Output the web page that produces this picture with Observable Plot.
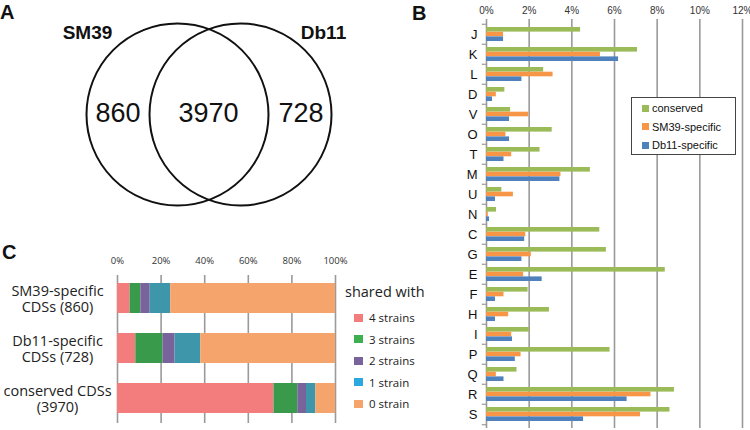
<!DOCTYPE html>
<html>
<head>
<meta charset="utf-8">
<script src="https://cdn.jsdelivr.net/npm/d3@7"></script>
<script src="https://cdn.jsdelivr.net/npm/@observablehq/plot@0.6"></script>
<style>
  html, body { margin: 0; padding: 0; background: #fff; }
  #root { position: relative; width: 750px; height: 430px; overflow: hidden; background: #fff; font-family: "Liberation Sans", Arial, sans-serif; }
  .panel { position: absolute; }
  .panel svg { overflow: visible; }
  .plabel { position: absolute; font-weight: bold; font-size: 20px; line-height: 1; color: #111; }
  .legB { position: absolute; left: 631px; top: 97px; width: 103px; height: 56px; border: 1.5px solid #444; background: #fff; font-size: 11px; color: #111; }
  .legB .row { position: absolute; left: 10px; display: flex; align-items: center; }
  .legB .sw { width: 7px; height: 7px; margin-right: 3px; }
  .legC { position: absolute; left: 345px; top: 282px; font-family: "Open Sans", sans-serif; color: #222; }
  .legC .title { font-size: 14.5px; line-height: 20px; }
  .legC .row { position: absolute; left: 9px; display: flex; align-items: center; font-size: 11.5px; white-space: nowrap; }
  .legC .sw { width: 9px; height: 8px; margin-right: 6px; }
</style>
</head>
<body>
<div id="root"></div>
<script>
// ---------- Panel A data ----------
const vennNames = ["SM39", "Db11"];
const vennCounts = [860, 3970, 728]; // SM39-only, shared, Db11-only

// ---------- Panel B data ----------
const cogCategories = ["J","K","L","D","V","O","T","M","U","N","C","G","E","F","H","I","P","Q","R","S"];
const conserved    = [4.41,7.08,2.68,0.86,1.13,3.08,2.51,4.87,0.72,0.47,5.31,5.62,8.38,1.95,2.95,2.01,5.79,1.43,8.81,8.60];
const sm39Specific = [0.80,5.34,3.12,0.46,1.98,0.91,1.18,3.49,1.26,0.08,1.84,2.10,1.74,0.82,1.04,1.18,1.62,0.46,7.71,7.22];
const db11Specific = [0.80,6.19,1.66,0.28,1.08,1.08,0.82,3.44,0.42,0.14,1.79,1.66,2.61,0.42,0.42,1.22,1.35,0.82,6.59,4.55];
const cogSeries = ["conserved", "SM39-specific", "Db11-specific"];
const cogColors = ["#9BBB59", "#F79646", "#4F81BD"];
const cogTicks = [0, 2, 4, 6, 8, 10, 12];

// ---------- Panel C data ----------
const cdsGroups = ["SM39-specific\nCDSs (860)", "Db11-specific\nCDSs (728)", "conserved CDSs\n(3970)"];
const sharedClasses = ["4 strains", "3 strains", "2 strains", "1 strain", "0 strain"];
const sharedSM39 = [5.8, 4.9, 4.3, 9.4, 75.6];
const sharedDb11 = [8.4, 12.5, 5.5, 11.8, 61.8];
const sharedConserved = [71.8, 10.9, 4.0, 4.3, 9.0];
const sharedColors = ["#F37D7D", "#3A9A4C", "#78649A", "#3E96AA", "#F5A46C"];
const sharedLegendColors = ["#F37D7D", "#3CAF4F", "#78649A", "#2BA8E0", "#F5A46C"];
const pctTicks = [0, 20, 40, 60, 80, 100];

const root = document.getElementById("root");
function place(el, left, top) {
  const wrap = document.createElement("div");
  wrap.className = "panel";
  wrap.style.left = left + "px";
  wrap.style.top = top + "px";
  wrap.appendChild(el);
  root.appendChild(wrap);
}

// ---------- Panel A: Venn ----------
const vennLayout = {cx: [177, 240], cy: 114, r: 91, nameX: [87, 323], nameY: 32, countX: [117.5, 208, 300.5], countY: 113};
const plotA = Plot.plot({
  width: 420, height: 220, margin: 0,
  style: {fontFamily: "Liberation Sans, Arial, sans-serif", background: "none", color: "#111"},
  x: {domain: [0, 420], range: [0, 420], axis: null},
  y: {domain: [0, 220], range: [0, 220], axis: null},
  marks: [
    Plot.dot(vennNames, {x: (d, i) => vennLayout.cx[i], y: vennLayout.cy, r: vennLayout.r, stroke: "#111", strokeWidth: 2, fill: "none"}),
    Plot.text(vennNames, {x: (d, i) => vennLayout.nameX[i], y: vennLayout.nameY, text: d => d, fontWeight: "bold", fontSize: 19, fill: "#111"}),
    Plot.text(vennCounts, {x: (d, i) => vennLayout.countX[i], y: vennLayout.countY, text: d => String(d), fontSize: 27, fill: "#111"})
  ]
});
place(plotA, 0, 0);

// ---------- Panel B: COG bars ----------
const seriesValues = [conserved, sm39Specific, db11Specific];
const rowsB = cogCategories.flatMap((c, i) => cogSeries.map((s, j) => ({category: c, series: s, value: seriesValues[j][i]})));
const bandB = 14.1, thirdB = bandB / 3;
const insetsB = [[0, 2 * thirdB], [thirdB, thirdB], [2 * thirdB, 0]];
const stepB = 409 / 20;
const plotB = Plot.plot({
  width: 310, height: 430, marginLeft: 46, marginRight: 8, marginTop: 19, marginBottom: 2,
  style: {fontFamily: "Liberation Sans, Arial, sans-serif", fontSize: "10px", background: "none", color: "#222"},
  x: {domain: [0, 12], axis: null},
  y: {domain: cogCategories, paddingInner: 0.31, paddingOuter: 0.155, axis: null},
  color: {domain: cogSeries, range: cogColors},
  marks: [
    Plot.ruleX(cogTicks, {stroke: "#9a9a9a", strokeWidth: 1.6}),
    Plot.axisX(cogTicks, {anchor: "top", label: null, tickSize: 0, tickPadding: 6, tickFormat: d => d + "%", fontSize: 10, fill: "#333"}),
    ...cogSeries.map((s, j) => Plot.barX(rowsB.filter(d => d.series === s), {
      y: "category", x: "value", fill: "series", insetTop: insetsB[j][0], insetBottom: insetsB[j][1]
    })),
    Plot.ruleY(cogCategories, {y: d => d, x1: -0.2, x2: 0, dy: -stepB / 2, stroke: "#9a9a9a", strokeWidth: 1.2}),
    Plot.ruleY(cogCategories.slice(-1), {y: d => d, x1: -0.2, x2: 0, dy: stepB / 2, stroke: "#9a9a9a", strokeWidth: 1.2}),
    Plot.axisY({label: null, tickSize: 0, tickPadding: 9, fontSize: 13, fill: "#111"})
  ]
});
place(plotB, 440, 0);

// Legend B
const legB = document.createElement("div");
legB.className = "legB";
cogSeries.forEach((s, j) => {
  const row = document.createElement("div");
  row.className = "row";
  row.style.top = (4 + j * 18.5) + "px";
  const sw = document.createElement("span");
  sw.className = "sw";
  sw.style.background = cogColors[j];
  const tx = document.createElement("span");
  tx.textContent = s;
  row.appendChild(sw); row.appendChild(tx);
  legB.appendChild(row);
});
root.appendChild(legB);

// ---------- Panel C: stacked bars ----------
const groupValues = [sharedSM39, sharedDb11, sharedConserved];
const rowsC = cdsGroups.flatMap((g, i) => sharedClasses.map((c, j) => ({group: g, cls: c, value: groupValues[i][j]})));
const plotC = Plot.plot({
  width: 345, height: 190, marginLeft: 117, marginRight: 10, marginTop: 32, marginBottom: 6,
  style: {fontFamily: "Open Sans, sans-serif", background: "none", color: "#222"},
  x: {domain: [0, 100], axis: null},
  y: {domain: cdsGroups, paddingInner: 0.4, paddingOuter: 0.2, axis: null},
  color: {domain: sharedClasses, range: sharedColors},
  marks: [
    Plot.ruleX(pctTicks, {stroke: "#9a9a9a", strokeWidth: 1.6, insetTop: 3, insetBottom: 1}),
    Plot.axisX(pctTicks, {anchor: "top", label: null, tickSize: 0, tickPadding: 9, tickFormat: d => d + "%", fontSize: 9.5, fill: "#333"}),
    Plot.barX(rowsC, {y: "group", x: "value", fill: "cls", order: sharedClasses}),
    Plot.axisY({label: null, tickSize: 0, tickPadding: 60, textAnchor: "middle", fontSize: 14.5, lineHeight: 1.12, fill: "#222"})
  ]
});
place(plotC, 0, 240);

// Legend C
const legC = document.createElement("div");
legC.className = "legC";
const ttl = document.createElement("div");
ttl.className = "title";
ttl.textContent = "shared with";
legC.appendChild(ttl);
sharedClasses.forEach((c, j) => {
  const row = document.createElement("div");
  row.className = "row";
  row.style.top = (28 + j * 21.6) + "px";
  const sw = document.createElement("span");
  sw.className = "sw";
  sw.style.background = sharedLegendColors[j];
  const tx = document.createElement("span");
  tx.textContent = c;
  row.appendChild(sw); row.appendChild(tx);
  legC.appendChild(row);
});
root.appendChild(legC);

// Panel letters
[["A", 0, 2], ["B", 412, 3], ["C", 2, 242]].forEach(([t, x, y]) => {
  const d = document.createElement("div");
  d.className = "plabel";
  d.style.left = x + "px";
  d.style.top = y + "px";
  d.textContent = t;
  root.appendChild(d);
});
</script>
</body>
</html>
